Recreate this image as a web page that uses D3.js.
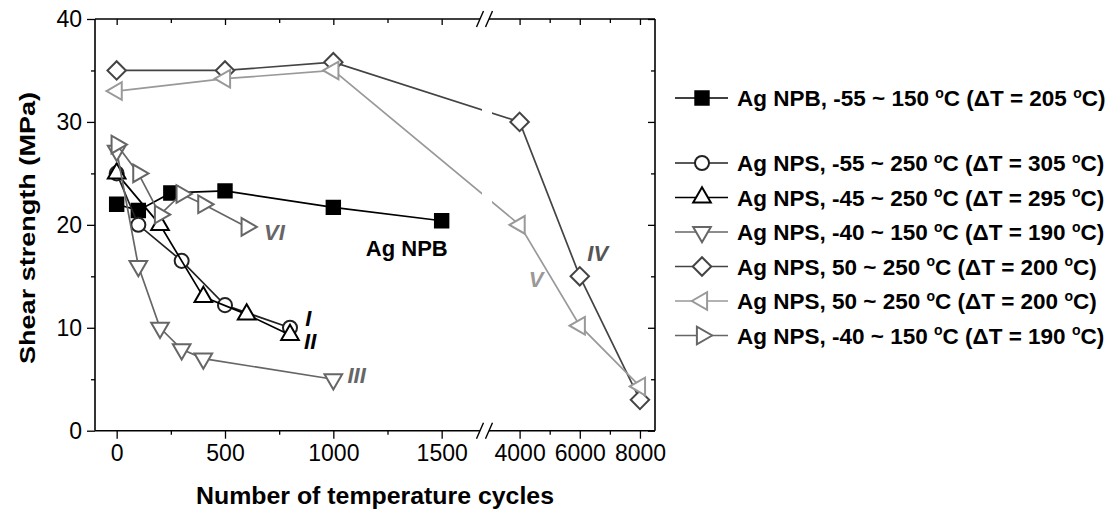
<!DOCTYPE html>
<html>
<head>
<meta charset="utf-8">
<script src="https://cdn.jsdelivr.net/npm/d3@7"></script>
<style>
  html, body { margin: 0; padding: 0; background: #fff; }
  svg { display: block; font-family: "Liberation Sans", Arial, sans-serif; }
</style>
</head>
<body>
<svg id="chart" width="1115" height="511"></svg>
<script>
// Shear strength of sintered Ag joints vs. number of thermal cycles
const cyclesNPB = [0, 100, 250, 500, 1000, 1500];
const strengthNPB = [22.0, 21.4, 23.1, 23.3, 21.7, 20.4];

const cyclesI = [0, 100, 300, 500, 800];
const strengthI = [25.0, 20.0, 16.5, 12.2, 10.0];

const cyclesII = [0, 200, 400, 600, 800];
const strengthII = [25.0, 20.0, 13.0, 11.3, 9.3];

const cyclesIII = [0, 100, 200, 300, 400, 1000];
const strengthIII = [27.2, 16.0, 10.0, 7.9, 7.0, 5.0];

const cyclesIV = [0, 500, 1000, 4000, 6000, 8000];
const strengthIV = [35.0, 35.0, 35.8, 30.0, 15.0, 3.0];

const cyclesV = [0, 500, 1000, 4000, 6000, 8000];
const strengthV = [33.0, 34.2, 35.0, 20.0, 10.2, 4.3];

const cyclesVI = [0, 100, 200, 300, 400, 600];
const strengthVI = [27.8, 25.0, 21.0, 23.0, 22.0, 19.8];

const legendLabels = [
  "Ag NPB, -55 ~ 150 |C (ΔT = 205 |C)",
  "Ag NPS, -55 ~ 250 |C (ΔT = 305 |C)",
  "Ag NPS, -45 ~ 250 |C (ΔT = 295 |C)",
  "Ag NPS, -40 ~ 150 |C (ΔT = 190 |C)",
  "Ag NPS, 50 ~ 250 |C (ΔT = 200 |C)",
  "Ag NPS, 50 ~ 250 |C (ΔT = 200 |C)",
  "Ag NPS, -40 ~ 150 |C (ΔT = 190 |C)"
];
const curveTags = ["Ag NPB", "I", "II", "III", "IV", "V", "VI"];

const yTicks = [0, 10, 20, 30, 40];
const yMinorTicks = [5, 15, 25, 35];
const xTicksLow = [0, 500, 1000, 1500];
const xMinorLow = [250, 750, 1250];
const xTicksHigh = [4000, 6000, 8000];
const xMinorHigh = [5000, 7000];

// ---- layout ----
const L = 95, R = 655, T = 19, B = 430.7, BRK = 485;
const svg = d3.select("#chart");

const y = d3.scaleLinear().domain([0, 40]).range([B, T]);
const xLow = d3.scaleLinear().domain([-100, 1700]).range([L, BRK]);
const xHigh = d3.scaleLinear().domain([2850, 8500]).range([BRK, R]);
const x = v => (v <= 1700 ? xLow(v) : xHigh(v));

const series = [
  { cx: cyclesNPB, cy: strengthNPB, shape: "square", fill: "#000", stroke: "#000", line: "#000" },
  { cx: cyclesI, cy: strengthI, shape: "circle", fill: "#fff", stroke: "#222", line: "#222" },
  { cx: cyclesII, cy: strengthII, shape: "up", fill: "#fff", stroke: "#000", line: "#000" },
  { cx: cyclesIII, cy: strengthIII, shape: "down", fill: "#fff", stroke: "#666", line: "#666" },
  { cx: cyclesIV, cy: strengthIV, shape: "diamond", fill: "#fff", stroke: "#444", line: "#444" },
  { cx: cyclesV, cy: strengthV, shape: "left", fill: "#fff", stroke: "#999", line: "#999" },
  { cx: cyclesVI, cy: strengthVI, shape: "right", fill: "#fff", stroke: "#666", line: "#666" }
];

function symbolPath(shape) {
  switch (shape) {
    case "square": return { d: d3.symbol(d3.symbolSquare, 180)(), rot: 0 };
    case "circle": return { d: d3.symbol(d3.symbolCircle, 155)(), rot: 0 };
    case "diamond": return { d: d3.symbol(d3.symbolSquare, 170)(), rot: 45 };
    case "up": return { d: d3.symbol(d3.symbolTriangle, 135)(), rot: 0 };
    case "down": return { d: d3.symbol(d3.symbolTriangle, 135)(), rot: 180 };
    case "left": return { d: d3.symbol(d3.symbolTriangle, 135)(), rot: -90 };
    case "right": return { d: d3.symbol(d3.symbolTriangle, 135)(), rot: 90 };
  }
}

// clip that opens a gap in the curves across the axis break
const defs = svg.append("defs");
const clip = defs.append("clipPath").attr("id", "brk");
clip.append("rect").attr("x", 0).attr("y", 0).attr("width", 482).attr("height", 511);
clip.append("rect").attr("x", 492).attr("y", 0).attr("width", 700).attr("height", 511);

// ---- axes ----
const fontTick = 23;

svg.append("g").attr("transform", `translate(${L},0)`)
  .call(d3.axisLeft(y).tickValues(yTicks).tickSize(8).tickPadding(5).tickFormat(d3.format("d")));
svg.append("g").attr("transform", `translate(${L},0)`)
  .call(d3.axisLeft(y).tickValues(yMinorTicks).tickSize(4).tickFormat(""));
// right frame ticks point inward
svg.append("g").attr("transform", `translate(${R},0)`)
  .call(d3.axisRight(y).tickValues(yTicks).tickSize(-7).tickFormat(""));
svg.append("g").attr("transform", `translate(${R},0)`)
  .call(d3.axisRight(y).tickValues(yMinorTicks).tickSize(-4).tickFormat(""));

function bottomAxis(scale, major, minor) {
  svg.append("g").attr("transform", `translate(0,${B})`)
    .call(d3.axisBottom(scale).tickValues(major).tickSize(8).tickPadding(6).tickFormat(d3.format("d")));
  svg.append("g").attr("transform", `translate(0,${B})`)
    .call(d3.axisBottom(scale).tickValues(minor).tickSize(4).tickFormat(""));
  svg.append("g").attr("transform", `translate(0,${T})`)
    .call(d3.axisTop(scale).tickValues(major).tickSize(-6).tickFormat(""));
  svg.append("g").attr("transform", `translate(0,${T})`)
    .call(d3.axisTop(scale).tickValues(minor).tickSize(-4).tickFormat(""));
}
bottomAxis(xLow, xTicksLow, xMinorLow);
bottomAxis(xHigh, xTicksHigh, xMinorHigh);

svg.selectAll(".domain").remove();
svg.selectAll(".tick line").attr("stroke", "#000").attr("stroke-width", 1.3);
svg.selectAll(".tick text").attr("font-size", fontTick).attr("fill", "#000")
  .attr("font-family", '"Liberation Sans", Arial, sans-serif');

// frame with break gaps
const frame = svg.append("g").attr("stroke", "#000").attr("stroke-width", 1.6).attr("fill", "none");
frame.append("line").attr("x1", L).attr("x2", L).attr("y1", T).attr("y2", B);
frame.append("line").attr("x1", R).attr("x2", R).attr("y1", T).attr("y2", B);
[T, B].forEach(yy => {
  frame.append("line").attr("x1", L).attr("x2", 480).attr("y1", yy).attr("y2", yy);
  frame.append("line").attr("x1", 489).attr("x2", R).attr("y1", yy).attr("y2", yy);
  [480, 489].forEach(cx => {
    frame.append("line").attr("x1", cx - 3.5).attr("y1", yy + 8)
      .attr("x2", cx + 3.5).attr("y2", yy - 8).attr("stroke-width", 1.4);
  });
});

// ---- curves and markers ----
const lineGen = d3.line().x(d => x(d[0])).y(d => y(d[1]));
const plot = svg.append("g");
series.forEach(s => {
  const pts = s.cx.map((c, i) => [c, s.cy[i]]);
  plot.append("path").attr("d", lineGen(pts)).attr("fill", "none")
    .attr("stroke", s.line).attr("stroke-width", 1.7).attr("clip-path", "url(#brk)");
  const sym = symbolPath(s.shape);
  plot.selectAll(null).data(pts).enter().append("path")
    .attr("d", sym.d)
    .attr("transform", d => `translate(${x(d[0])},${y(d[1])}) rotate(${sym.rot})`)
    .attr("fill", s.fill).attr("stroke", s.stroke).attr("stroke-width", 2);
});

// ---- curve tags ----
const tags = [
  { t: curveTags[0], cx: 1150, cy: 17.0, col: "#000", it: false },
  { t: curveTags[1], cx: 870, cy: 10.2, col: "#000", it: true },
  { t: curveTags[2], cx: 865, cy: 7.9, col: "#000", it: true },
  { t: curveTags[3], cx: 1065, cy: 4.6, col: "#666", it: true },
  { t: curveTags[4], cx: 6250, cy: 16.5, col: "#555", it: true },
  { t: curveTags[5], cx: 4300, cy: 14.0, col: "#999", it: true },
  { t: curveTags[6], cx: 680, cy: 18.5, col: "#666", it: true }
];
svg.append("g").selectAll("text").data(tags).enter().append("text")
  .attr("x", d => x(d.cx)).attr("y", d => y(d.cy))
  .attr("font-size", 22).attr("font-weight", "bold")
  .attr("font-style", d => d.it ? "italic" : "normal")
  .attr("fill", d => d.col).text(d => d.t);

// ---- axis titles ----
svg.append("text").attr("x", 375).attr("y", 504).attr("text-anchor", "middle")
  .attr("font-size", 24).attr("font-weight", "bold")
  .attr("textLength", 358).attr("lengthAdjust", "spacingAndGlyphs")
  .text("Number of temperature cycles");
svg.append("text").attr("transform", "translate(35,228) rotate(-90)").attr("text-anchor", "middle")
  .attr("font-size", 22).attr("font-weight", "bold")
  .attr("textLength", 272).attr("lengthAdjust", "spacingAndGlyphs")
  .text("Shear strength (MPa)");

// ---- legend ----
const legY = [98, 163, 197.5, 232, 266.5, 301, 335.5];
const leg = svg.append("g");
series.forEach((s, i) => {
  const g = leg.append("g").attr("transform", `translate(0,${legY[i]})`);
  g.append("line").attr("x1", 675).attr("x2", 728).attr("y1", 0).attr("y2", 0)
    .attr("stroke", s.line).attr("stroke-width", 1.7);
  const sym = symbolPath(s.shape);
  g.append("path").attr("d", sym.d).attr("transform", `translate(702,0) rotate(${sym.rot})`)
    .attr("fill", s.fill).attr("stroke", s.stroke).attr("stroke-width", 2);
  const txt = g.append("text").attr("x", 737).attr("y", 8)
    .attr("font-size", 22.5).attr("font-weight", "bold").attr("fill", "#000");
  const parts = legendLabels[i].split("|");
  parts.forEach((p, k) => {
    if (k > 0) {
      txt.append("tspan").attr("font-size", 14).attr("dy", -8.5).text("o");
      txt.append("tspan").attr("dy", 8.5).text(p);
    } else {
      txt.append("tspan").text(p);
    }
  });
});
</script>
</body>
</html>
